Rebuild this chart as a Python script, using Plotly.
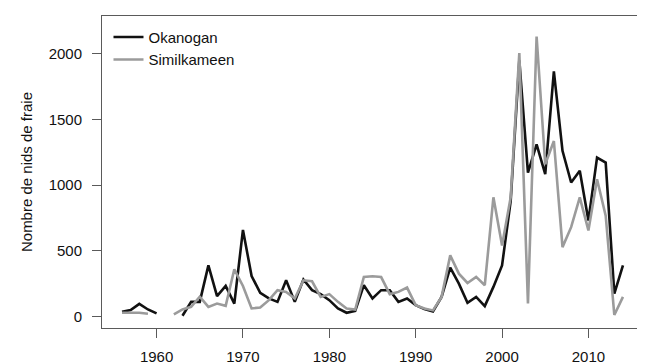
import plotly.graph_objects as go

years = list(range(1956, 2015))

okanogan = [35, 48, 96, 53, 23, None, None, 5, 111, 111, 389, 155, 233, 98, 659,
            308, 180, 137, 111, 275, 111, 281, 200, 170, 124, 61, 28, 43, 238, 137,
            200, 200, 111, 137, 86, 56, 38, 149, 371, 250, 104, 149, 79, 225, 389,
            880, 1950, 1096, 1311, 1083, 1867, 1261, 1020, 1109, 730, 1210, 1172, 174, 389]

similkameen = [28, 28, 28, 20, None, None, 15, 53, 73, 150, 73, 98, 81, 359, 232,
               61, 68, 124, 200, 187, 137, 275, 268, 149, 170, 111, 61, 53, 301, 306,
               300, 170, 187, 220, 86, 61, 46, 149, 465, 326, 255, 301, 238, 907, 541,
               907, 2005, 98, 2132, 1159, 1336, 528, 680, 907, 655, 1045, 768, 11, 149]

x_ticks = [1960, 1970, 1980, 1990, 2000, 2010]
y_ticks = [0, 500, 1000, 1500, 2000]

FONT = "Liberation Sans, Arial, Helvetica, sans-serif"
FRAME = "#5a5a5a"

fig = go.Figure()
fig.add_trace(go.Scatter(x=years, y=okanogan, mode="lines", name="Okanogan",
                         line=dict(color="#111111", width=2.6)))
fig.add_trace(go.Scatter(x=years, y=similkameen, mode="lines", name="Similkameen",
                         line=dict(color="#9b9b9b", width=2.6)))

fig.update_layout(
    width=645, height=364,
    margin=dict(l=94, r=10, t=7, b=43),
    paper_bgcolor="white", plot_bgcolor="white",
    font=dict(family=FONT, size=15, color="#111111"),
    showlegend=True,
    legend=dict(x=0.012, y=0.985, xanchor="left", yanchor="top",
                bgcolor="rgba(0,0,0,0)", borderwidth=0,
                font=dict(size=15), tracegroupgap=0, itemwidth=30),
)
fig.update_xaxes(range=[1953.68, 2016.32], tickvals=x_ticks,
                 ticks="outside", ticklen=9, tickcolor=FRAME, tickwidth=1,
                 ticklabelstandoff=6,
                 showline=True, linecolor=FRAME, linewidth=1, mirror=True,
                 showgrid=False, zeroline=False,
                 tickfont=dict(size=15, color="#111111"))
fig.update_yaxes(range=[-88, 2288], tickvals=y_ticks,
                 ticks="outside", ticklen=9, tickcolor=FRAME, tickwidth=1,
                 ticklabelstandoff=7,
                 showline=True, linecolor=FRAME, linewidth=1, mirror=True,
                 showgrid=False, zeroline=False,
                 title=dict(text="Nombre de nids de fraie", font=dict(size=15), standoff=12),
                 tickfont=dict(size=15, color="#111111"))

fig.write_html("out.html")
